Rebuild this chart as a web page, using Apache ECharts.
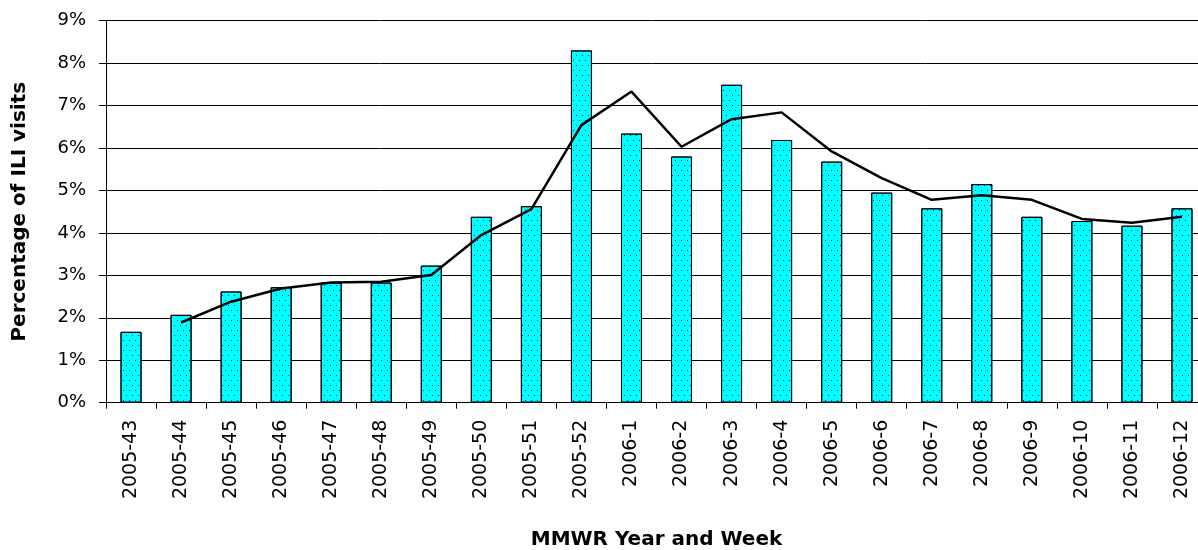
<!DOCTYPE html>
<html>
<head>
<meta charset="utf-8">
<script src="https://cdn.jsdelivr.net/npm/echarts@6/dist/echarts.min.js"></script>
<style>
html,body{margin:0;padding:0;background:#fff;}
#chart{width:1198px;height:550px;}
</style>
</head>
<body>
<div id="chart"></div>
<script>
const categories = ['2005-43','2005-44','2005-45','2005-46','2005-47','2005-48','2005-49','2005-50','2005-51','2005-52','2006-1','2006-2','2006-3','2006-4','2006-5','2006-6','2006-7','2006-8','2006-9','2006-10','2006-11','2006-12'];
const weeklyPct = [1.67, 2.07, 2.62, 2.72, 2.83, 2.83, 3.23, 4.38, 4.63, 8.30, 6.34, 5.80, 7.49, 6.19, 5.68, 4.95, 4.58, 5.15, 4.38, 4.28, 4.17, 4.58];
const trendPct = [null, 1.89, 2.38, 2.69, 2.83, 2.85, 3.01, 3.95, 4.56, 6.54, 7.33, 6.03, 6.68, 6.84, 5.92, 5.29, 4.78, 4.89, 4.78, 4.33, 4.24, 4.38];
const yTicks = [0,1,2,3,4,5,6,7,8,9];

const chart = echarts.init(document.getElementById('chart'));
chart.setOption({
  backgroundColor: '#ffffff',
  animation: false,
  grid: {left: 106, right: -9, top: 20.7, bottom: 147.3, containLabel: false, outerBoundsMode: 'none'},
  xAxis: {
    type: 'category',
    data: categories,
    name: 'MMWR Year and Week',
    nameLocation: 'middle',
    nameGap: 127,
    nameTextStyle: {fontFamily: 'DejaVu Sans', fontWeight: 'bold', fontSize: 20, color: '#000'},
    axisLine: {lineStyle: {color: '#000', width: 1}},
    axisTick: {show: true, length: 6, lineStyle: {color: '#000'}},
    axisLabel: {rotate: 90, margin: 17, fontFamily: 'DejaVu Sans', fontSize: 19, color: '#000', interval: 0},
    splitLine: {show: false}
  },
  yAxis: {
    type: 'value',
    min: yTicks[0],
    max: yTicks[yTicks.length - 1],
    interval: 1,
    name: 'Percentage of ILI visits',
    nameLocation: 'middle',
    nameGap: 76,
    nameTextStyle: {fontFamily: 'DejaVu Sans', fontWeight: 'bold', fontSize: 20, color: '#000'},
    axisLine: {show: true, lineStyle: {color: '#000', width: 1}},
    axisTick: {show: true, length: 7, lineStyle: {color: '#000'}},
    axisLabel: {formatter: '{value}%', margin: 20, fontFamily: 'DejaVu Sans', fontSize: 18, color: '#000'},
    splitLine: {show: true, lineStyle: {color: '#000', width: 1}}
  },
  series: [
    {
      type: 'bar',
      data: weeklyPct,
      barWidth: 21,
      itemStyle: {
        color: '#00ffff',
        borderColor: '#000',
        borderWidth: 1,
        decal: {
          symbol: 'rect',
          symbolSize: 1,
          color: '#1a1aff',
          dashArrayX: [[1, 5], [0, 3, 1, 2]],
          dashArrayY: [1, 4],
          rotation: 0
        }
      },
      z: 2
    },
    {
      type: 'line',
      data: trendPct,
      showSymbol: false,
      symbol: 'none',
      lineStyle: {color: '#000', width: 2.5},
      connectNulls: false,
      z: 3
    }
  ]
});
</script>
</body>
</html>
